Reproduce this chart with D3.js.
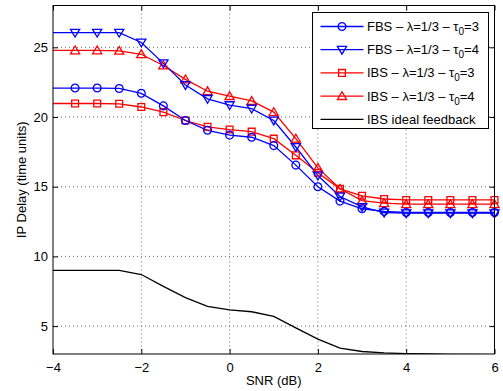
<!DOCTYPE html>
<html>
<head>
<meta charset="utf-8">
<script src="https://cdn.jsdelivr.net/npm/d3@7"></script>
<style>
  body { margin: 0; background: #fff; }
  svg text { font-family: "Liberation Sans", Arial, Helvetica, sans-serif; }
</style>
</head>
<body>
<svg id="chart"></svg>
<script>
// SNR points (dB)
const snr = [-4, -3.5, -3, -2.5, -2, -1.5, -1, -0.5, 0, 0.5, 1, 1.5, 2, 2.5, 3, 3.5, 4, 4.5, 5, 5.5, 6];

// IP delay values
const fbsTau3 = [22.08, 22.08, 22.08, 22.05, 21.7, 20.8, 19.75, 19.05, 18.7, 18.55, 17.95, 16.55, 15.0, 13.97, 13.42, 13.23, 13.15, 13.15, 13.15, 13.15, 13.15];
const fbsTau4 = [26.05, 26.05, 26.05, 26.05, 25.35, 23.85, 22.3, 21.3, 20.85, 20.6, 19.75, 17.85, 15.8, 14.3, 13.55, 13.15, 13.1, 13.1, 13.1, 13.1, 13.1];
const ibsTau3 = [20.97, 20.97, 20.97, 20.95, 20.72, 20.35, 19.75, 19.3, 19.1, 18.95, 18.45, 17.25, 16.0, 14.85, 14.35, 14.12, 14.05, 14.05, 14.05, 14.05, 14.05];
const ibsTau4 = [24.78, 24.78, 24.78, 24.75, 24.5, 23.7, 22.7, 21.85, 21.5, 21.15, 20.35, 18.45, 16.35, 14.85, 14.0, 13.82, 13.75, 13.75, 13.75, 13.75, 13.75];
const ibsIdeal = [9.0, 9.0, 9.0, 9.0, 8.7, 7.85, 7.05, 6.42, 6.17, 6.03, 5.7, 4.87, 4.07, 3.42, 3.18, 3.08, 3.03, 3.0, 2.98, 2.97, 2.96];

const xTicks = [-4, -2, 0, 2, 4, 6];
const yTicks = [5, 10, 15, 20, 25];

const seriesNames = ["FBS", "FBS", "IBS", "IBS"];
const seriesTau = ["3", "4", "3", "4"];

let w = 503;
let h = 391;

let svg = d3.select('#chart')
    .attr('width', w)
    .attr('height', h);

let xScale = d3.scaleLinear()
    .domain([-4, 6])
    .range([53, 494.5]);

let yScale = d3.scaleLinear()
    .domain([3, 28])
    .range([354, 5.5]);

let pLeft = xScale.range()[0], pRight = xScale.range()[1];
let pTop = yScale.range()[1], pBottom = yScale.range()[0];

svg.append('defs').append('clipPath')
    .attr('id', 'plotclip')
    .append('rect')
    .attr('x', pLeft).attr('y', pTop)
    .attr('width', pRight - pLeft).attr('height', pBottom - pTop);

// dotted grid
let grid = svg.append('g').attr('stroke', '#444').attr('stroke-width', 0.8).attr('stroke-dasharray', '1,3');
grid.selectAll('.gx')
    .data(xTicks.filter(d => d > -4 && d < 6))
    .enter().append('line')
    .attr('x1', d => xScale(d)).attr('x2', d => xScale(d))
    .attr('y1', pTop).attr('y2', pBottom);
grid.selectAll('.gy')
    .data(yTicks)
    .enter().append('line')
    .attr('x1', pLeft).attr('x2', pRight)
    .attr('y1', d => yScale(d)).attr('y2', d => yScale(d));

// axes with inner ticks on all four sides
const fmt = d => d < 0 ? '\u2212' + Math.abs(d) : String(d);

function styleAxis(g) {
    g.select('.domain').remove();
    g.selectAll('.tick line').attr('stroke', '#000').attr('stroke-width', 1);
    g.selectAll('text').attr('font-size', '13px').attr('fill', '#000')
        .attr('font-family', '"Liberation Sans", Arial, sans-serif');
}

svg.append('g')
    .attr('transform', `translate(0, ${pBottom})`)
    .call(d3.axisBottom(xScale).tickValues(xTicks).tickFormat(fmt).tickSize(-5).tickPadding(9))
    .call(styleAxis);
svg.append('g')
    .attr('transform', `translate(0, ${pTop})`)
    .call(d3.axisTop(xScale).tickValues(xTicks).tickFormat('').tickSize(-5))
    .call(styleAxis);
svg.append('g')
    .attr('transform', `translate(${pLeft}, 0)`)
    .call(d3.axisLeft(yScale).tickValues(yTicks).tickFormat(fmt).tickSize(-5).tickPadding(5))
    .call(styleAxis);
svg.append('g')
    .attr('transform', `translate(${pRight}, 0)`)
    .call(d3.axisRight(yScale).tickValues(yTicks).tickFormat('').tickSize(-5))
    .call(styleAxis);

// marker shapes
function markerPath(type) {
    if (type === 'square') return 'M-3.4,-3.4H3.4V3.4H-3.4Z';
    if (type === 'down') return 'M-4.6,-3.4L4.6,-3.4L0,4.4Z';
    if (type === 'up') return 'M-4.6,3.4L4.6,3.4L0,-4.4Z';
    return null;
}

function drawMarker(g, type, color) {
    if (type === 'circle') {
        g.append('circle').attr('r', 3.9).attr('fill', 'none')
            .attr('stroke', color).attr('stroke-width', 1.3);
    } else {
        g.append('path').attr('d', markerPath(type)).attr('fill', 'none')
            .attr('stroke', color).attr('stroke-width', 1.3);
    }
}

const series = [
    { values: fbsTau3, color: '#0000ff', marker: 'circle' },
    { values: fbsTau4, color: '#0000ff', marker: 'down' },
    { values: ibsTau3, color: '#ff0000', marker: 'square' },
    { values: ibsTau4, color: '#ff0000', marker: 'up' },
    { values: ibsIdeal, color: '#000000', marker: null }
];

let line = d3.line()
    .x(d => xScale(d[0]))
    .y(d => yScale(d[1]));

let plot = svg.append('g').attr('clip-path', 'url(#plotclip)');

// draw in reverse so the blue FBS lines sit on top like the original
[4, 3, 2, 1, 0].forEach(i => {
    let s = series[i];
    let pts = snr.map((x, j) => [x, s.values[j]]);
    plot.append('path')
        .attr('d', line(pts))
        .attr('fill', 'none')
        .attr('stroke', s.color)
        .attr('stroke-width', 1.3);
    if (s.marker) {
        pts.filter(p => p[0] > -4).forEach(p => {
            let g = svg.append('g')
                .attr('transform', `translate(${xScale(p[0])}, ${yScale(p[1])})`);
            drawMarker(g, s.marker, s.color);
        });
    }
});

// frame
svg.append('rect')
    .attr('x', pLeft).attr('y', pTop)
    .attr('width', pRight - pLeft).attr('height', pBottom - pTop)
    .attr('fill', 'none').attr('stroke', '#000').attr('stroke-width', 1);

// axis titles
svg.append('text')
    .attr('x', (pLeft + pRight) / 2)
    .attr('y', 385)
    .attr('text-anchor', 'middle')
    .attr('font-size', '13px')
    .text('SNR (dB)');

svg.append('text')
    .attr('transform', `translate(26, ${(pTop + pBottom) / 2}) rotate(-90)`)
    .attr('text-anchor', 'middle')
    .attr('font-size', '13px')
    .text('IP Delay (time units)');

// legend
let legend = svg.append('g');
legend.append('rect')
    .attr('x', 312.5).attr('y', 12.5)
    .attr('width', 176).attr('height', 116)
    .attr('fill', '#fff').attr('stroke', '#000').attr('stroke-width', 1);

series.forEach((s, i) => {
    let ly = 26.5 + i * 23.2;
    let row = legend.append('g');
    row.append('line')
        .attr('x1', 320.5).attr('x2', 363.5)
        .attr('y1', ly).attr('y2', ly)
        .attr('stroke', s.color).attr('stroke-width', 1.3);
    if (s.marker) {
        drawMarker(row.append('g').attr('transform', `translate(342, ${ly})`), s.marker, s.color);
    }
    let t = row.append('text')
        .attr('x', 367)
        .attr('y', ly)
        .attr('dy', '0.35em')
        .attr('font-size', '13px');
    if (i < 4) {
        t.append('tspan').text(seriesNames[i] + ' \u2013 \u03bb=1/3 \u2013 \u03c4');
        t.append('tspan').attr('font-size', '10px').attr('dy', 4).text('0');
        t.append('tspan').attr('dy', -4).text('=' + seriesTau[i]);
    } else {
        t.text('IBS ideal feedback');
    }
});
</script>
</body>
</html>
